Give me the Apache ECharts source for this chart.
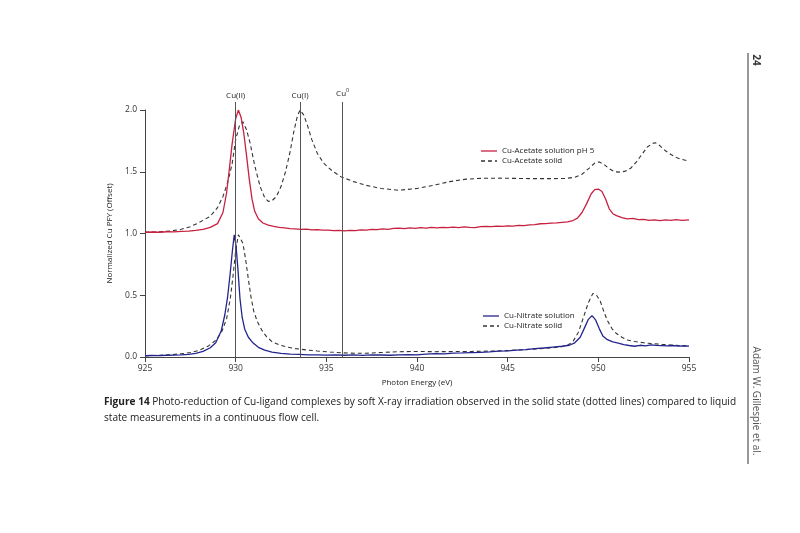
<!DOCTYPE html>
<html lang="en">
<head>
    <meta charset="UTF-8">
    <title>Cu PFY spectra</title>
    <script src="https://cdn.jsdelivr.net/npm/echarts/dist/echarts.min.js"></script>
    <style>
        html, body { margin: 0; padding: 0; background: #fff; }
        #main { width: 800px; height: 533px; }
    </style>
</head>
<body>
<div id="main"></div>
<script>
    // Cu-Acetate solution pH 5 (red, solid)
    var acetateSolE = [925.0, 925.4, 925.8, 926.2, 926.6, 927.0, 927.4, 927.8, 928.2, 928.6,
        929.0, 929.3, 929.5, 929.65, 929.8, 930.0, 930.15, 930.3, 930.45, 930.6,
        930.75, 930.9, 931.05, 931.25, 931.5, 931.8, 932.1, 932.4, 932.7, 933.0,
        933.3, 933.6, 933.9, 934.2, 934.5, 934.8, 935.1, 935.4, 935.7, 936.0,
        936.3, 936.6, 936.9, 937.2, 937.5, 937.8, 938.1, 938.4, 938.7, 939.0,
        939.3, 939.6, 939.9, 940.2, 940.5, 940.8, 941.1, 941.4, 941.7, 942.0,
        942.3, 942.6, 942.9, 943.2, 943.5, 943.8, 944.1, 944.4, 944.7, 945.0,
        945.3, 945.6, 945.9, 946.2, 946.5, 946.8, 947.1, 947.4, 947.7, 948.0,
        948.3, 948.6, 948.85, 949.1, 949.35, 949.6, 949.8, 950.0, 950.2, 950.4,
        950.6, 950.8, 951.0, 951.3, 951.6, 951.9, 952.2, 952.5, 952.8, 953.1,
        953.4, 953.7, 954.0, 954.3, 954.6, 955.0];
    var acetateSolV = [1.010, 1.012, 1.010, 1.014, 1.013, 1.018, 1.020, 1.026, 1.033, 1.050,
        1.080, 1.170, 1.330, 1.520, 1.720, 1.930, 2.000, 1.940, 1.810, 1.630,
        1.440, 1.280, 1.180, 1.120, 1.085, 1.068, 1.058, 1.050, 1.045, 1.040,
        1.038, 1.034, 1.036, 1.030, 1.032, 1.027, 1.028, 1.024, 1.025, 1.021,
        1.026, 1.024, 1.030, 1.027, 1.033, 1.031, 1.037, 1.034, 1.041, 1.043,
        1.039, 1.045, 1.042, 1.047, 1.044, 1.049, 1.045, 1.050, 1.047, 1.052,
        1.048, 1.053, 1.050, 1.048, 1.055, 1.058, 1.056, 1.060, 1.058, 1.062,
        1.060, 1.066, 1.064, 1.070, 1.072, 1.079, 1.080, 1.084, 1.086, 1.090,
        1.094, 1.105, 1.125, 1.170, 1.240, 1.320, 1.355, 1.360, 1.340, 1.280,
        1.200, 1.160, 1.145, 1.128, 1.118, 1.122, 1.112, 1.114, 1.106, 1.111,
        1.104, 1.110, 1.106, 1.112, 1.107, 1.110];

    // Cu-Acetate solid (dashed)
    var acetateSolidE = [925.0, 925.5, 926.0, 926.5, 927.0, 927.5, 928.0, 928.6, 929.0, 929.3,
        929.55, 929.8, 930.0, 930.2, 930.4, 930.6, 930.8, 931.05, 931.35, 931.6,
        931.8, 932.0, 932.25, 932.5, 932.75, 933.0, 933.2, 933.4, 933.55, 933.75,
        933.95, 934.2, 934.5, 934.85, 935.3, 935.8, 936.5, 937.2, 938.0, 939.0,
        940.0, 940.9, 941.8, 942.7, 943.6, 944.6, 945.5, 946.4, 947.3, 948.2,
        948.7, 949.1, 949.5, 949.8, 950.05, 950.3, 950.6, 950.9, 951.2, 951.5,
        951.8, 952.1, 952.4, 952.7, 953.0, 953.15, 953.4, 953.7, 954.0, 954.3,
        954.6, 955.0];
    var acetateSolidV = [1.010, 1.012, 1.015, 1.022, 1.035, 1.055, 1.090, 1.140, 1.210, 1.300,
        1.410, 1.560, 1.760, 1.870, 1.905, 1.840, 1.730, 1.550, 1.380, 1.290,
        1.260, 1.265, 1.300, 1.380, 1.500, 1.660, 1.820, 1.950, 2.000, 1.960,
        1.880, 1.760, 1.650, 1.570, 1.510, 1.460, 1.420, 1.390, 1.365, 1.350,
        1.365, 1.390, 1.420, 1.440, 1.447, 1.448, 1.446, 1.444, 1.444, 1.446,
        1.455, 1.480, 1.530, 1.570, 1.580, 1.560, 1.525, 1.500, 1.497, 1.505,
        1.530, 1.580, 1.640, 1.700, 1.730, 1.735, 1.710, 1.670, 1.640, 1.615,
        1.600, 1.585];

    // Cu-Nitrate solution (blue, solid)
    var nitrateSolE = [925.0, 925.4, 925.8, 926.2, 926.6, 927.0, 927.4, 927.8, 928.2, 928.6,
        928.9, 929.2, 929.4, 929.55, 929.7, 929.82, 929.92, 930.02, 930.12, 930.24,
        930.36, 930.5, 930.7, 930.95, 931.25, 931.6, 932.0, 932.5, 933.0, 933.5,
        934.0, 934.5, 935.0, 935.5, 936.0, 936.5, 937.0, 937.5, 938.0, 938.5,
        939.0, 939.5, 940.0, 940.5, 941.0, 941.5, 942.0, 942.5, 943.0, 943.5,
        944.0, 944.5, 945.0, 945.5, 946.0, 946.5, 947.0, 947.5, 948.0, 948.4,
        948.7, 949.0, 949.25, 949.45, 949.65, 949.85, 950.05, 950.25, 950.5, 950.8,
        951.1, 951.4, 951.7, 952.0, 952.3, 952.6, 952.9, 953.2, 953.5, 953.8,
        954.1, 954.4, 954.7, 955.0];
    var nitrateSolV = [0.010, 0.012, 0.011, 0.014, 0.015, 0.018, 0.022, 0.030, 0.045, 0.075,
        0.115, 0.210, 0.340, 0.480, 0.680, 0.860, 0.990, 0.900, 0.720, 0.470,
        0.320, 0.225, 0.160, 0.115, 0.078, 0.055, 0.040, 0.030, 0.024, 0.021,
        0.018, 0.017, 0.015, 0.018, 0.014, 0.017, 0.013, 0.018, 0.016, 0.014,
        0.017, 0.020, 0.018, 0.024, 0.027, 0.025, 0.031, 0.033, 0.036, 0.038,
        0.042, 0.047, 0.050, 0.055, 0.060, 0.068, 0.073, 0.080, 0.087, 0.095,
        0.115, 0.160, 0.240, 0.305, 0.335, 0.300, 0.230, 0.170, 0.140, 0.122,
        0.112, 0.100, 0.093, 0.087, 0.095, 0.090, 0.098, 0.094, 0.092, 0.090,
        0.093, 0.088, 0.090, 0.088];

    // Cu-Nitrate solid (dashed)
    var nitrateSolidE = [925.0, 925.5, 926.0, 926.5, 927.0, 927.5, 928.0, 928.5, 928.95, 929.25,
        929.5, 929.7, 929.85, 930.0, 930.15, 930.25, 930.4, 930.55, 930.7, 930.85,
        931.0, 931.2, 931.45, 931.7, 932.0, 932.4, 932.8, 933.3, 933.9, 934.5,
        935.2, 935.9, 936.6, 937.2, 938.0, 939.0, 940.0, 941.0, 942.0, 943.0,
        944.0, 945.0, 946.0, 947.0, 947.9, 948.3, 948.6, 948.9, 949.2, 949.45,
        949.7, 949.9, 950.1, 950.3, 950.5, 950.75, 951.0, 951.3, 951.6, 952.0,
        952.5, 953.0, 953.5, 954.0, 954.5, 955.0];
    var nitrateSolidV = [0.010, 0.012, 0.015, 0.020, 0.026, 0.036, 0.055, 0.090, 0.140, 0.210,
        0.310, 0.470, 0.650, 0.860, 0.990, 1.000, 0.920, 0.790, 0.630, 0.480,
        0.370, 0.285, 0.215, 0.165, 0.125, 0.098, 0.082, 0.068, 0.057, 0.049,
        0.040, 0.034, 0.030, 0.030, 0.036, 0.043, 0.045, 0.043, 0.044, 0.045,
        0.048, 0.052, 0.060, 0.070, 0.080, 0.095, 0.125, 0.200, 0.330, 0.440,
        0.515, 0.500, 0.455, 0.370, 0.295, 0.230, 0.190, 0.160, 0.138, 0.125,
        0.115, 0.108, 0.102, 0.097, 0.093, 0.090];

    // reference energies for oxidation states
    var markerEnergy = [930.0, 933.55, 935.9];
    var markerLabels = ['{a|Cu(II)}', '{a|Cu(I)}', '{a|Cu}{s|0}'];

    var xTicks = [925, 930, 935, 940, 945, 950, 955];
    var yTicks = [0.0, 0.5, 1.0, 1.5, 2.0];

    function pairs(e, v) {
        return e.map(function (x, i) {
            return [x, v[i]];
        });
    }

    var fontFam = 'Open Sans';
    var solidIcon = 'path://M0,0h16v1.3h-16z';
    var dashIcon = 'path://M0,0h4v1.3h-4z M7,0h4v1.3h-4z M14,0h2v1.3h-2z';

    var markData = markerEnergy.map(function (e, i) {
        return [{coord: [e, 0], label: {formatter: markerLabels[i]}}, {coord: [e, 1]}];
    });

    var legendText = {fontSize: 8, color: '#222', fontFamily: fontFam};

    var myChart = echarts.init(document.getElementById('main'));
    var option = {
        backgroundColor: '#fff',
        animation: false,
        textStyle: {fontFamily: fontFam},
        grid: [
            {left: 145, right: 111, top: 110, bottom: 176},
            // taller grid only for the reference lines, they stick out above 2.0
            {left: 145, right: 111, top: 102, bottom: 176}
        ],
        legend: [{
            data: [{name: 'Cu-Acetate solution pH 5', icon: solidIcon},
                {name: 'Cu-Acetate solid', icon: dashIcon}],
            left: 481, top: 147, orient: 'vertical', padding: 0,
            itemWidth: 16, itemHeight: 8, itemGap: 2,
            textStyle: legendText
        }, {
            data: [{name: 'Cu-Nitrate solution', icon: solidIcon},
                {name: 'Cu-Nitrate solid', icon: dashIcon}],
            left: 483, top: 312, orient: 'vertical', padding: 0,
            itemWidth: 16, itemHeight: 8, itemGap: 2,
            textStyle: legendText
        }],
        xAxis: [{
            type: 'value', min: 925, max: 955, interval: 5,
            name: 'Photon Energy (eV)', nameLocation: 'middle', nameGap: 22,
            nameTextStyle: {fontSize: 8, color: '#222'},
            axisLine: {onZero: false, lineStyle: {color: '#444', width: 1}},
            axisTick: {length: 5, lineStyle: {color: '#444'}},
            axisLabel: {fontSize: 8.5, color: '#333', margin: 7,
                formatter: function (v) { return xTicks.indexOf(v) >= 0 ? String(v) : ''; }},
            splitLine: {show: false}
        }, {
            type: 'value', gridIndex: 1, min: 925, max: 955, show: false
        }],
        yAxis: [{
            type: 'value', min: 0, max: 2, interval: 0.5,
            name: 'Normalized Cu PFY (Offset)', nameLocation: 'middle', nameGap: 24,
            nameTextStyle: {fontSize: 8, color: '#222'},
            axisLine: {show: true, lineStyle: {color: '#444', width: 1}},
            axisTick: {show: true, length: 5, lineStyle: {color: '#444'}},
            axisLabel: {fontSize: 8.5, color: '#333', margin: 8,
                formatter: function (v) { return yTicks.indexOf(v) >= 0 ? v.toFixed(1) : ''; }},
            splitLine: {show: false}
        }, {
            type: 'value', gridIndex: 1, min: 0, max: 1, show: false
        }],
        series: [{
            name: 'refLines', type: 'line', xAxisIndex: 1, yAxisIndex: 1,
            symbol: 'none', data: [],
            markLine: {
                silent: true, symbol: 'none', animation: false,
                lineStyle: {color: '#555', width: 1, type: 'solid'},
                label: {
                    show: true, position: 'end', distance: 2,
                    rich: {
                        a: {fontSize: 8, color: '#222', fontFamily: fontFam},
                        s: {fontSize: 5.5, color: '#222', fontFamily: fontFam, padding: [0, 0, 7, 0]}
                    }
                },
                data: markData
            }
        }, {
            name: 'Cu-Acetate solid', type: 'line', symbol: 'none',
            data: pairs(acetateSolidE, acetateSolidV),
            lineStyle: {color: '#333', width: 1.1, type: [4, 3]},
            itemStyle: {color: '#333'}
        }, {
            name: 'Cu-Acetate solution pH 5', type: 'line', symbol: 'none',
            data: pairs(acetateSolE, acetateSolV),
            lineStyle: {color: '#c8203f', width: 1.3},
            itemStyle: {color: '#c8203f'}
        }, {
            name: 'Cu-Nitrate solid', type: 'line', symbol: 'none',
            data: pairs(nitrateSolidE, nitrateSolidV),
            lineStyle: {color: '#333', width: 1.1, type: [4, 3]},
            itemStyle: {color: '#333'}
        }, {
            name: 'Cu-Nitrate solution', type: 'line', symbol: 'none',
            data: pairs(nitrateSolE, nitrateSolV),
            lineStyle: {color: '#24248f', width: 1.3},
            itemStyle: {color: '#24248f'}
        }],
        graphic: [{
            type: 'text', left: 104, top: 397,
            style: {
                text: '{b|Figure 14} Photo-reduction of Cu-ligand complexes by soft X-ray irradiation observed in the solid state (dotted lines) compared to liquid',
                fontSize: 10.1, fontFamily: fontFam, fill: '#222',
                rich: {b: {fontSize: 10.1, fontWeight: 'bold', fontFamily: fontFam, fill: '#222'}}
            }
        }, {
            type: 'text', left: 104, top: 413,
            style: {
                text: 'state measurements in a continuous flow cell.',
                fontSize: 10.1, fontFamily: fontFam, fill: '#222'
            }
        }, {
            type: 'line',
            shape: {x1: 748, y1: 53, x2: 748, y2: 464},
            style: {stroke: '#333', lineWidth: 1}
        }, {
            type: 'text', x: 756, y: 60, rotation: -Math.PI / 2,
            style: {text: '24', fontSize: 10, fontWeight: 'bold', fontFamily: fontFam, fill: '#333',
                align: 'center', verticalAlign: 'middle'}
        }, {
            type: 'text', x: 756, y: 401, rotation: -Math.PI / 2,
            style: {text: 'Adam W. Gillespie et al.', fontSize: 10, fontFamily: fontFam, fill: '#555',
                align: 'center', verticalAlign: 'middle'}
        }]
    };
    myChart.setOption(option);
</script>
</body>
</html>
